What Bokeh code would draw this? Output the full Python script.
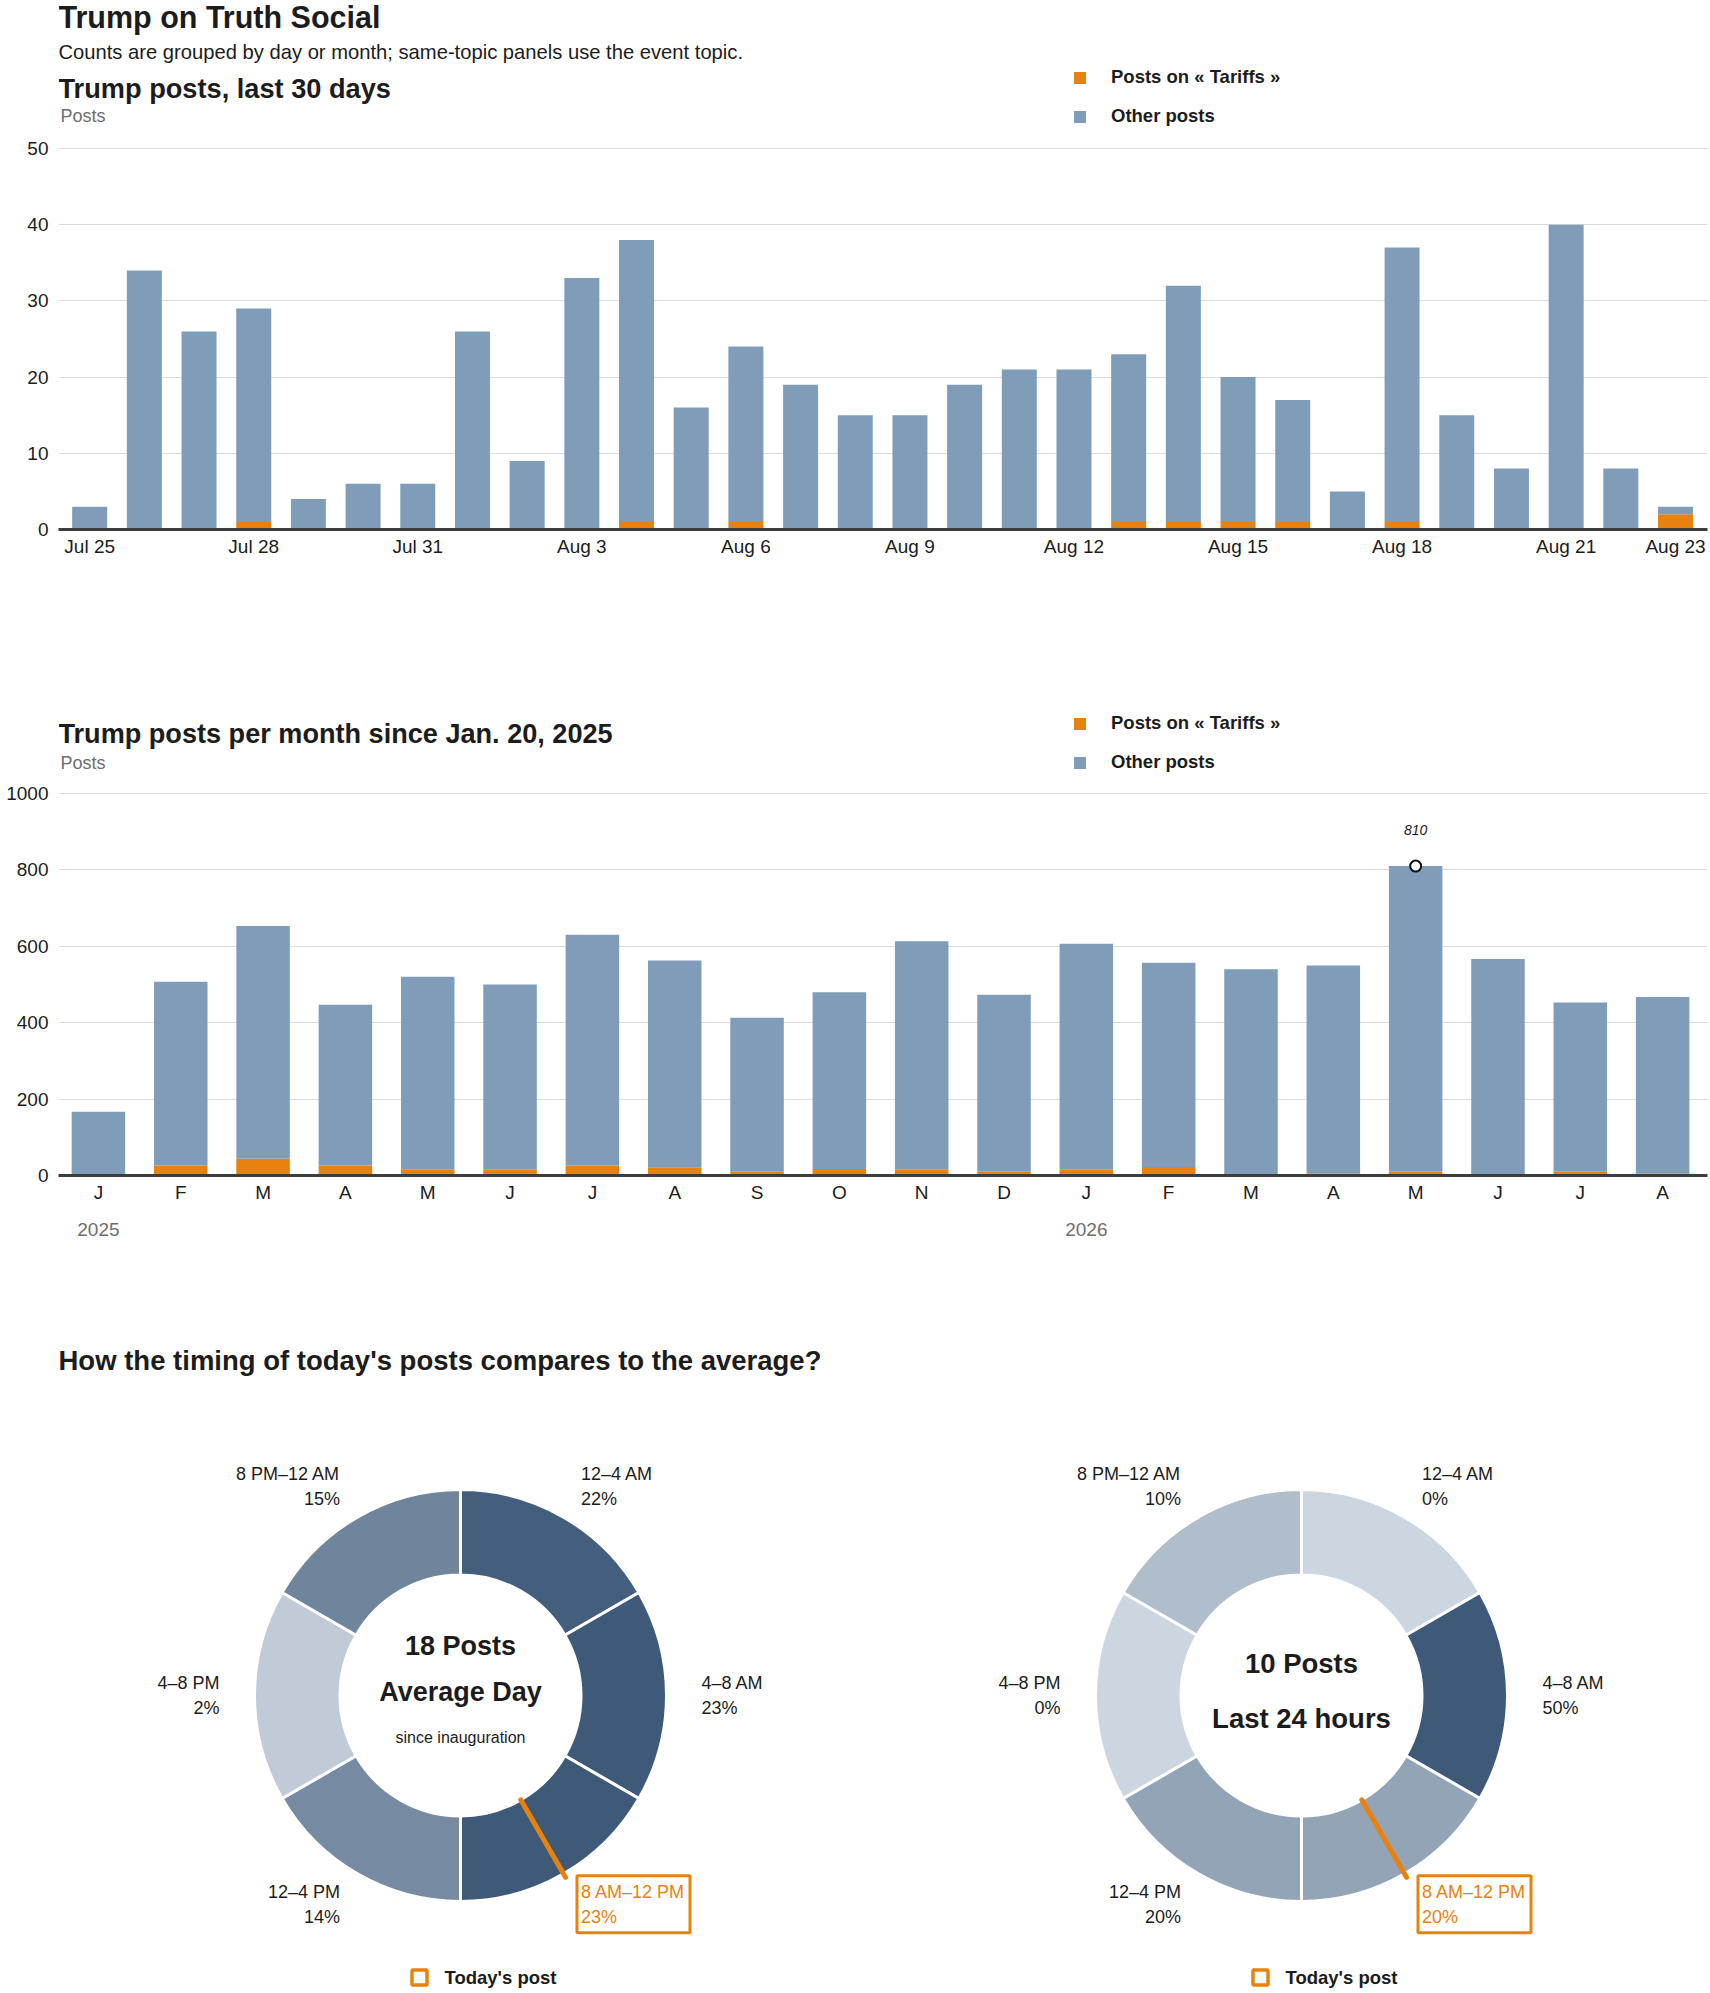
import numpy as np
from bokeh.plotting import figure
from bokeh.models import ColumnDataSource, Range1d, FixedTicker, LinearAxis, Label, Legend
from bokeh.layouts import column
from bokeh.embed import file_html
from bokeh.resources import INLINE
from bokeh.core.properties import value

# ---------------- data ----------------
days = ["Jul 25", "Jul 26", "Jul 27", "Jul 28", "Jul 29", "Jul 30", "Jul 31",
        "Aug 1", "Aug 2", "Aug 3", "Aug 4", "Aug 5", "Aug 6", "Aug 7", "Aug 8",
        "Aug 9", "Aug 10", "Aug 11", "Aug 12", "Aug 13", "Aug 14", "Aug 15",
        "Aug 16", "Aug 17", "Aug 18", "Aug 19", "Aug 20", "Aug 21", "Aug 22", "Aug 23"]
day_ticks = ["Jul 25", "Jul 28", "Jul 31", "Aug 3", "Aug 6", "Aug 9", "Aug 12",
             "Aug 15", "Aug 18", "Aug 21", "Aug 23"]
day_tariffs = [0, 0, 0, 1, 0, 0, 0, 0, 0, 0, 1, 0, 1, 0, 0, 0, 0, 0, 0, 1, 1, 1, 1, 0, 1, 0, 0, 0, 0, 2]
day_other = [3, 34, 26, 28, 4, 6, 6, 26, 9, 33, 37, 16, 23, 19, 15, 15, 19, 21, 21, 22, 31, 19, 16, 5, 36, 15, 8, 40, 8, 1]
day_axis_ticks = [0, 10, 20, 30, 40, 50]

months = ["J", "F", "M", "A", "M", "J", "J", "A", "S", "O", "N", "D",
          "J", "F", "M", "A", "M", "J", "J", "A"]
month_years = ["2025"] * 12 + ["2026"] * 8
month_tariffs = [0, 26, 44, 26, 15, 15, 26, 20, 10, 17, 15, 10, 15, 22, 4, 6, 10, 0, 10, 6]
month_other = [167, 481, 609, 421, 505, 485, 604, 543, 403, 463, 598, 463, 592, 535, 536, 544, 800, 567, 443, 461]
month_axis_ticks = [0, 200, 400, 600, 800, 1000]

slots = ["12–4 AM", "4–8 AM", "8 AM–12 PM", "12–4 PM", "4–8 PM", "8 PM–12 AM"]
avg_share = [22, 23, 23, 14, 2, 15]
last24_share = [0, 50, 20, 20, 0, 10]
avg_posts = 18
last24_posts = 10
today_post_hour = 10

# ---------------- style ----------------
FONT = "Liberation Sans"
ORANGE = "#e8820e"
BLUE = "#7f9db9"
INK = "#1c1c1c"
GRAY = "#6e6e6e"
W = 1710
BL, BR = 58, 3          # left / right borders (px)
LEGEND_LABELS = ["Posts on « Tariffs »", "Other posts"]


def put(p, x, y, text, size, style="normal", color=INK, align="left"):
    # canvas units: x from left, y from top
    p.add_layout(Label(x=x, y=y, x_units="canvas", y_units="canvas",
                       text=text, text_font=FONT, text_font_size=f"{size}px",
                       text_font_style=style, text_color=color,
                       text_align=align, text_baseline="middle"))


def style_axis(ax, size="19px", color=INK, standoff=5):
    ax.axis_line_color = None
    ax.major_tick_line_color = None
    ax.minor_tick_line_color = None
    ax.major_tick_out = 0
    ax.major_tick_in = 0
    ax.minor_tick_out = 0
    ax.minor_tick_in = 0
    ax.major_label_standoff = standoff
    ax.major_label_text_font = FONT
    ax.major_label_text_font_size = size
    ax.major_label_text_color = color


def bar_fig(height, frame_bottom, data_top, n, pad_l, pad_r, yticks):
    # frame spans the canvas from its top to frame_bottom; top tick sits at data_top
    ymax = yticks[-1] * frame_bottom / (frame_bottom - data_top)
    p = figure(width=W, height=height, x_range=Range1d(-pad_l, n - 1 + pad_r),
               y_range=Range1d(0, ymax), output_backend="svg", toolbar_location=None,
               min_border_left=BL, min_border_right=BR, min_border_top=0,
               min_border_bottom=height - frame_bottom)
    p.outline_line_color = None
    p.xgrid.visible = False
    p.ygrid.grid_line_color = "#dcdcdc"
    p.ygrid.grid_line_width = 1
    ya = p.left[0]
    ya.ticker = FixedTicker(ticks=yticks)
    style_axis(ya, standoff=10)
    xa = p.below[0]
    style_axis(xa, standoff=6)
    xa.axis_line_color = "#3c3c3c"
    xa.axis_line_width = 3
    return p


def add_legend(p, renderers):
    leg = Legend(items=[(LEGEND_LABELS[0], [renderers[0]]), (LEGEND_LABELS[1], [renderers[1]])],
                 location=(1014, 402), orientation="vertical",
                 glyph_width=15, glyph_height=15, label_standoff=24, spacing=17,
                 padding=0, margin=0, border_line_color=None, background_fill_alpha=0,
                 label_text_font=FONT, label_text_font_style="bold",
                 label_text_font_size="18.5px", label_text_color=INK, label_height=20)
    p.add_layout(leg)


# ---------------- chart 1: last 30 days ----------------
H1 = 622
p1 = bar_fig(H1, 529, 148, len(days), 0.57, 0.585, day_axis_ticks)
src1 = ColumnDataSource(dict(x=list(range(len(days))), tariffs=day_tariffs, other=day_other))
r1 = p1.vbar_stack(["tariffs", "other"], x="x", width=0.64, fill_color=[ORANGE, BLUE],
                   line_color=None, source=src1)
tick_idx = [days.index(d) for d in day_ticks]
p1.below[0].ticker = FixedTicker(ticks=tick_idx)
p1.below[0].major_label_overrides = {i: days[i] for i in tick_idx}
add_legend(p1, r1)
put(p1, 58, 16, "Trump on Truth Social", 30.5, "bold")
put(p1, 58, 51, "Counts are grouped by day or month; same-topic panels use the event topic.", 20.2)
put(p1, 58, 87.5, "Trump posts, last 30 days", 27.2, "bold")
put(p1, 60, 115.5, "Posts", 18, color=GRAY)

# ---------------- chart 2: per month ----------------
H2 = 673
p2 = bar_fig(H2, 553, 171, len(months), 0.485, 0.545, month_axis_ticks)
src2 = ColumnDataSource(dict(x=list(range(len(months))), tariffs=month_tariffs, other=month_other))
r2 = p2.vbar_stack(["tariffs", "other"], x="x", width=0.65, fill_color=[ORANGE, BLUE],
                   line_color=None, source=src2)
p2.below[0].ticker = FixedTicker(ticks=list(range(len(months))))
p2.below[0].major_label_overrides = {i: m for i, m in enumerate(months)}
year_idx = [month_years.index(y) for y in dict.fromkeys(month_years)]
yax = LinearAxis(ticker=FixedTicker(ticks=year_idx),
                 major_label_overrides={i: month_years[i] for i in year_idx})
style_axis(yax, color=GRAY, standoff=17)
p2.add_layout(yax, "below")
add_legend(p2, r2)
totals = [a + b for a, b in zip(month_tariffs, month_other)]
peak = int(np.argmax(totals))
p2.scatter(x=[peak], y=[totals[peak]], marker="circle", size=11, fill_color="white",
           line_color="#111111", line_width=2)
p2.text(x=[peak], y=[totals[peak]], text=[str(totals[peak])], y_offset=-36,
        text_align="center", text_baseline="middle", text_font=value(FONT),
        text_font_size="14px", text_font_style="italic", text_color=INK)
put(p2, 58, 111, "Trump posts per month since Jan. 20, 2025", 27.1, "bold")
put(p2, 60, 140, "Posts", 18, color=GRAY)

# ---------------- chart 3: donuts ----------------
H3 = 698
p3 = figure(width=W, height=H3, x_range=Range1d(BL, W - BR), y_range=Range1d(0, H3),
            output_backend="svg", toolbar_location=None,
            min_border_left=BL, min_border_right=BR, min_border_top=0, min_border_bottom=0,
            x_axis_location=None, y_axis_location=None)
p3.outline_line_color = None
p3.grid.visible = False
put(p3, 58, 65, "How the timing of today's posts compares to the average?", 27.5, "bold")

LIGHT = (204, 214, 224)
DARK = (62, 90, 120)


def shade(f):
    return "#%02x%02x%02x" % tuple(int(round(l + (d - l) * f)) for l, d in zip(LIGHT, DARK))


R_IN, R_OUT, R_LAB = 120.5, 206, 241
CY = 298
KEY_Y = 16


def donut(cx, cy, shares, center_lines):
    n = len(slots)
    step = 2 * np.pi / n
    th0 = np.arange(n) * step
    top = max(shares)
    src = ColumnDataSource(dict(start=np.pi / 2 - th0, end=np.pi / 2 - (th0 + step),
                                color=[shade(s / top) for s in shares]))
    p3.annular_wedge(x=cx, y=cy, inner_radius=R_IN, outer_radius=R_OUT,
                     start_angle="start", end_angle="end", direction="clock",
                     fill_color="color", line_color="white", line_width=3, source=src)
    hi = int(today_post_hour // (24 / n))
    mid = th0 + step / 2
    for k in range(n):
        lx = cx + R_LAB * np.sin(mid[k])
        ly = cy + R_LAB * np.cos(mid[k])
        align = "left" if mid[k] < np.pi else "right"
        col = ORANGE if k == hi else INK
        p3.text(x=[lx, lx], y=[ly + 12.5, ly - 12.5], text=[slots[k], f"{shares[k]}%"],
                text_align=align, text_baseline="middle", text_font=value(FONT),
                text_font_size="18px", text_color=col)
        if k == hi:
            p3.rect(x=[lx + 52.5], y=[ly], width=113, height=57, fill_color=None,
                    line_color=ORANGE, line_width=3)
    ang = 2 * np.pi * today_post_hour / 24
    p3.segment(x0=[cx + R_IN * np.sin(ang)], y0=[cy + R_IN * np.cos(ang)],
               x1=[cx + (R_OUT + 4) * np.sin(ang)], y1=[cy + (R_OUT + 4) * np.cos(ang)],
               line_color=ORANGE, line_width=5, line_cap="round")
    for txt, dy, size, style in center_lines:
        p3.text(x=[cx], y=[cy + dy], text=[txt], text_align="center", text_baseline="middle",
                text_font=value(FONT), text_font_size=f"{size}px", text_font_style=style,
                text_color=INK)
    p3.scatter(x=[cx - 41], y=[KEY_Y], marker="square", size=15, fill_color=None,
               line_color=ORANGE, line_width=3.5)
    p3.text(x=[cx - 16], y=[KEY_Y], text=["Today's post"], text_align="left",
            text_baseline="middle", text_font=value(FONT), text_font_size="18.5px",
            text_font_style="bold", text_color=INK)


donut(460, CY, avg_share, [(f"{avg_posts} Posts", 50, 27, "bold"),
                           ("Average Day", 4, 27, "bold"),
                           ("since inauguration", -42, 16, "normal")])
donut(1301, CY, last24_share, [(f"{last24_posts} Posts", 32, 27.5, "bold"),
                               ("Last 24 hours", -23, 27.5, "bold")])

layout = column(p1, p2, p3, spacing=0)
open("out.html", "w").write(file_html(layout, INLINE))
